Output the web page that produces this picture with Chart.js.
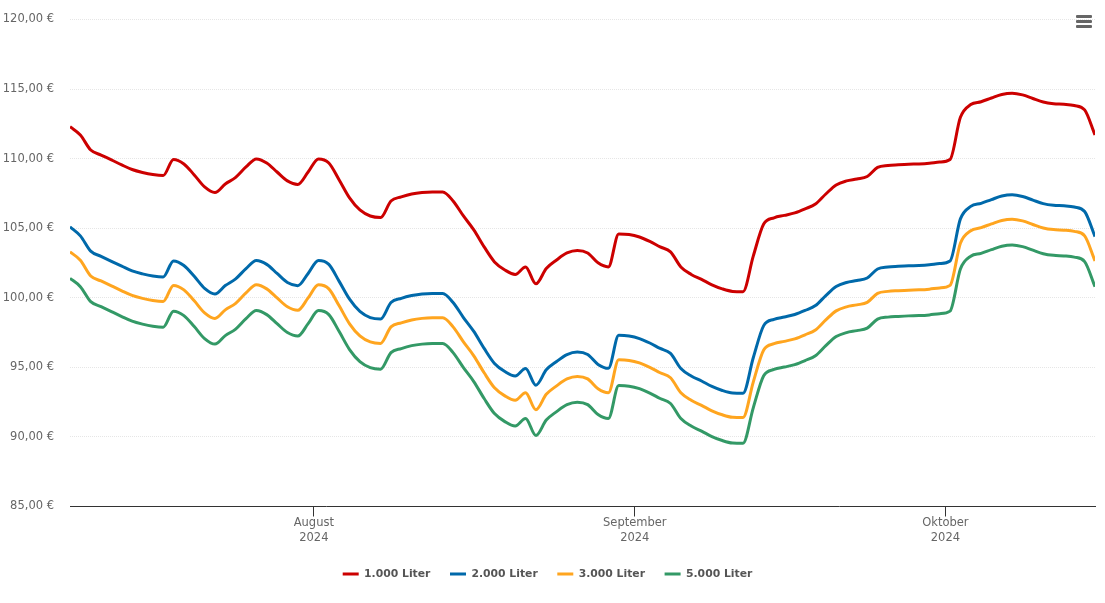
<!DOCTYPE html>
<html>
<head>
<meta charset="utf-8">
<style>
  html, body { margin: 0; padding: 0; background: #fff; overflow: hidden; }
  #wrap { position: relative; width: 1105px; height: 603px; }
  .bar { position: absolute; left: 1076px; width: 16px; height: 3px; border-radius: 1px; background: #666; }
</style>
<script src="https://cdn.jsdelivr.net/npm/chart.js@4"></script>
</head>
<body>
<div id="wrap">
  <canvas id="priceChart" width="1105" height="603"></canvas>
  <div class="bar" style="top:15px"></div>
  <div class="bar" style="top:20px"></div>
  <div class="bar" style="top:25px"></div>
</div>
<script>
const seriesNames = ['1.000 Liter', '2.000 Liter', '3.000 Liter', '5.000 Liter'];
const seriesColors = ['#cc0000', '#0069aa', '#ffa51f', '#339966'];

// one value per day; day 0 is the left edge
const liter1000 = [
  112.30,111.70,110.62,110.26,109.91,109.55,109.22,109.01,108.86,108.79,
  109.94,109.62,108.83,107.97,107.57,108.18,108.65,109.40,109.98,109.69,
  109.04,108.40,108.15,109.04,109.98,109.69,108.47,107.18,106.31,105.88,
  105.77,106.96,107.25,107.46,107.57,107.61,107.61,106.96,105.88,104.88,
  103.66,102.58,102.00,101.68,102.22,101.00,102.11,102.72,103.22,103.40,
  103.22,102.51,102.22,104.59,104.55,104.37,104.05,103.66,103.30,102.22,
  101.68,101.32,100.93,100.64,100.46,100.44,103.01,105.30,105.75,105.92,
  106.10,106.39,106.74,107.46,108.11,108.40,108.54,108.72,109.37,109.51,
  109.56,109.60,109.62,109.67,109.76,109.94,112.97,113.89,114.09,114.36,
  114.61,114.70,114.58,114.32,114.07,113.95,113.91,113.82,113.50,111.70
];
const liter2000 = [
  105.10,104.45,103.35,102.98,102.62,102.27,101.93,101.72,101.57,101.50,
  102.65,102.32,101.54,100.68,100.28,100.88,101.36,102.10,102.68,102.40,
  101.75,101.10,100.87,101.75,102.68,102.40,101.18,99.90,99.02,98.58,
  98.48,99.66,99.96,100.16,100.28,100.31,100.31,99.66,98.58,97.58,
  96.36,95.28,94.70,94.38,94.92,93.72,94.82,95.42,95.92,96.10,
  95.92,95.21,94.93,97.30,97.25,97.07,96.75,96.36,96.00,94.92,
  94.38,94.02,93.63,93.34,93.16,93.14,95.71,98.00,98.45,98.62,
  98.80,99.09,99.44,100.16,100.81,101.10,101.24,101.42,102.07,102.21,
  102.26,102.30,102.32,102.37,102.46,102.64,105.67,106.57,106.79,107.06,
  107.31,107.40,107.28,107.02,106.77,106.65,106.61,106.52,106.20,104.40
];
const liter3000 = [
  103.30,102.70,101.57,101.21,100.86,100.50,100.17,99.96,99.81,99.74,
  100.89,100.57,99.78,98.92,98.52,99.13,99.60,100.35,100.93,100.64,
  99.99,99.35,99.10,99.99,100.93,100.64,99.42,98.13,97.26,96.83,
  96.72,97.91,98.20,98.41,98.52,98.56,98.56,97.91,96.83,95.83,
  94.61,93.53,92.95,92.63,93.17,91.95,93.06,93.67,94.17,94.35,
  94.17,93.46,93.17,95.54,95.50,95.32,95.00,94.61,94.25,93.17,
  92.63,92.27,91.88,91.59,91.41,91.39,93.96,96.25,96.70,96.87,
  97.05,97.34,97.69,98.41,99.06,99.35,99.49,99.67,100.32,100.46,
  100.51,100.55,100.57,100.62,100.71,100.89,103.92,104.82,105.04,105.31,
  105.56,105.65,105.53,105.27,105.02,104.90,104.86,104.77,104.45,102.65
];
const liter5000 = [
  101.40,100.80,99.72,99.36,99.01,98.65,98.32,98.11,97.96,97.89,
  99.04,98.72,97.93,97.07,96.67,97.28,97.75,98.50,99.08,98.79,
  98.14,97.50,97.25,98.14,99.08,98.79,97.57,96.28,95.41,94.98,
  94.87,96.06,96.35,96.56,96.67,96.71,96.71,96.06,94.98,93.98,
  92.76,91.68,91.10,90.78,91.32,90.10,91.21,91.82,92.32,92.50,
  92.32,91.61,91.32,93.69,93.65,93.47,93.15,92.76,92.40,91.32,
  90.78,90.42,90.03,89.74,89.56,89.54,92.11,94.40,94.85,95.02,
  95.20,95.49,95.84,96.56,97.21,97.50,97.64,97.82,98.47,98.61,
  98.66,98.70,98.72,98.77,98.86,99.04,102.07,102.99,103.19,103.46,
  103.71,103.80,103.68,103.42,103.17,103.05,103.01,102.92,102.60,100.80
];

// month ticks, in days from the left edge
const monthTicks = [23.55, 54.55, 84.55];
const monthLabels = [['August', '2024'], ['September', '2024'], ['Oktober', '2024']];

const allSeries = [liter1000, liter2000, liter3000, liter5000];
const fontFamily = "'DejaVu Sans', sans-serif";

new Chart(document.getElementById('priceChart'), {
  type: 'line',
  data: {
    datasets: allSeries.map((values, s) => ({
      label: seriesNames[s],
      data: values.map((y, i) => ({ x: i, y: y })),
      borderColor: seriesColors[s],
      backgroundColor: seriesColors[s],
      borderWidth: 3,
      pointRadius: 0,
      cubicInterpolationMode: 'monotone',
      borderJoinStyle: 'round',
      pointStyle: 'line'
    }))
  },
  options: {
    responsive: false,
    animation: false,
    layout: { padding: { top: 19.5, right: 10, bottom: 13.5, left: 0 } },
    plugins: {
      tooltip: { enabled: false },
      legend: {
        position: 'bottom',
        labels: {
          usePointStyle: true,
          pointStyleWidth: 16,
          padding: 19.6,
          color: '#555555',
          font: { family: fontFamily, size: 10.8, weight: 'bold' }
        }
      }
    },
    scales: {
      x: {
        type: 'linear',
        min: 0,
        max: 99,
        afterBuildTicks: scale => {
          scale.ticks = monthTicks.map(v => ({ value: v }));
        },
        afterFit: scale => { scale.height = 42.6; },
        grid: { drawOnChartArea: false, tickLength: 10, tickColor: '#333333', tickWidth: 1 },
        border: { color: '#333333', width: 1 },
        ticks: {
          autoSkip: false,
          maxRotation: 0,
          padding: -1,
          color: '#666666',
          font: { family: fontFamily, size: 11.5, lineHeight: 1.3 },
          callback: function(value) {
            return monthLabels[monthTicks.indexOf(value)];
          }
        }
      },
      y: {
        min: 85,
        max: 120,
        afterFit: scale => {
          scale.width = 70;
          scale.paddingTop = 0;
          scale.paddingBottom = 0;
        },
        grid: { color: '#e6e6e6', lineWidth: 1, drawTicks: false },
        border: { display: false, dash: [1, 1] },
        ticks: {
          stepSize: 5,
          padding: 16,
          color: '#666666',
          font: { family: fontFamily, size: 11.5 },
          callback: function(value) {
            return value.toFixed(2).replace('.', ',') + ' €';
          }
        }
      }
    }
  }
});
</script>
</body>
</html>
